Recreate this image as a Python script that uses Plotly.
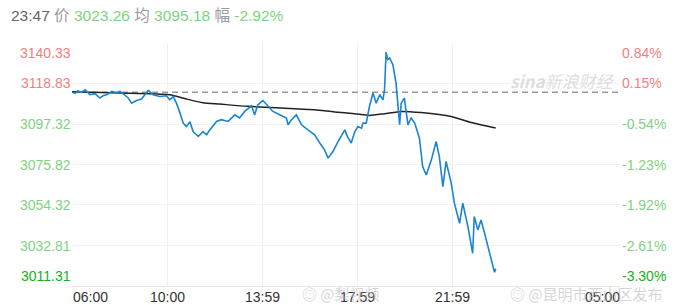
import plotly.graph_objects as go
import pandas as pd

# ---------------- data ----------------
price_times = [
    "06:00", "06:08", "06:15", "06:24", "06:33", "06:45", "06:58", "07:10", "07:18", "07:27",
    "07:40", "07:51", "08:01", "08:13", "08:21", "08:30", "08:43", "08:55", "09:04", "09:12",
    "09:24", "09:41", "09:58", "10:06", "10:15", "10:23", "10:32", "10:40", "10:48", "10:57",
    "11:05", "11:18", "11:30", "11:39", "11:47", "12:04", "12:16", "12:33", "12:50", "13:02",
    "13:15", "13:32", "13:40", "13:48", "14:01", "14:14", "14:26", "14:43", "15:00", "15:04",
    "15:13", "15:25", "15:38", "15:54", "16:11", "16:24", "16:36", "16:45", "16:57", "17:10",
    "17:27", "17:34", "17:43", "17:52", "18:00", "18:09", "18:13", "18:21", "18:29", "18:38",
    "18:46", "18:55", "19:03", "19:07", "19:11", "19:15", "19:20", "19:28", "19:36", "19:40",
    "19:45", "19:49", "19:57", "20:06", "20:14", "20:23", "20:35", "20:43", "20:52", "21:05",
    "21:17", "21:25", "21:34", "21:42", "21:55", "22:03", "22:16", "22:24", "22:37", "22:49",
    "22:53", "23:02", "23:10", "23:19", "23:27", "23:35", "23:40", "23:44", "23:47",
]
price_values = [
    3114.2, 3113.6, 3115.0, 3114.1, 3115.5, 3112.9, 3113.4, 3111.1, 3112.3, 3112.9,
    3114.6, 3113.9, 3114.6, 3112.3, 3111.3, 3108.4, 3109.8, 3110.6, 3112.9, 3115.1,
    3112.9, 3111.9, 3112.3, 3110.2, 3111.9, 3108.4, 3103.1, 3097.8, 3096.0, 3098.5,
    3093.3, 3090.7, 3093.3, 3091.6, 3094.2, 3098.7, 3099.6, 3098.7, 3102.2, 3100.5,
    3104.0, 3107.0, 3102.2, 3107.5, 3109.8, 3106.6, 3104.0, 3102.2, 3100.5, 3096.9,
    3099.6, 3102.2, 3096.9, 3094.2, 3091.6, 3087.2, 3083.6, 3079.2, 3082.7, 3088.0,
    3094.2, 3090.5, 3087.2, 3093.2, 3096.0, 3095.1, 3097.8, 3097.8, 3106.6, 3113.8,
    3108.4, 3112.9, 3110.2, 3115.5, 3135.5, 3131.5, 3132.4, 3128.8, 3119.1, 3109.3,
    3096.9, 3108.4, 3111.1, 3096.9, 3100.5, 3097.8, 3089.8, 3074.7, 3070.3, 3078.3,
    3088.0, 3080.0, 3064.1, 3077.4, 3065.9, 3055.3, 3044.6, 3055.3, 3042.8, 3028.7,
    3048.2, 3041.1, 3046.4, 3039.3, 3032.2, 3025.1, 3022.0, 3018.6, 3020.5,
]

avg_times = [
    "06:00", "08:01", "10:06", "10:48", "11:30", "12:12", "13:23", "14:48", "16:11", "17:01",
    "17:52", "18:29", "19:07", "19:49", "20:39", "21:55", "22:45", "23:47",
]
avg_values = [
    3114.4, 3113.8, 3112.9, 3110.6, 3108.6, 3107.9, 3106.7, 3105.8, 3104.9, 3103.7,
    3102.8, 3101.9, 3102.8, 3104.0, 3103.4, 3101.3, 3098.1, 3095.18,
]

prev_close = 3114.17
y_tick_values = [3140.33, 3118.83, 3097.32, 3075.82, 3054.32, 3032.81, 3011.31]
pct_tick_labels = ["0.84%", "0.15%", "-0.54%", "-1.23%", "-1.92%", "-2.61%", "-3.30%"]
x_tick_times = ["06:00", "10:00", "13:59", "17:59", "21:59", "05:00"]

header_time = "23:47"
header_price = "3023.26"
header_avg = "3095.18"
header_change = "-2.92%"


# ---------------- helpers ----------------
def to_dt(t):
    h, m = map(int, t.split(":"))
    day = 1 if h >= 6 else 2
    return pd.Timestamp(2024, 1, day, h, m)


px_times = [to_dt(t) for t in price_times]
av_times = [to_dt(t) for t in avg_times]
xt = [to_dt(t) for t in x_tick_times]

RED = "#f67e7e"
GREEN = "#7fd27f"
DGREEN = "#18b018"
FONT = "Liberation Sans, Arial, sans-serif"

W, H = 690, 305
ML, MR, MT, MB = 72, 70, 43, 19
PW, PH = W - ML - MR, H - MT - MB


def px_x(x):
    return (x - ML) / PW


def px_y(y):
    return (H - MB - y) / PH


fig = go.Figure()

# prev close dashed line
fig.add_trace(go.Scatter(
    x=[xt[0], xt[-1]], y=[prev_close, prev_close], mode="lines",
    line=dict(color="#9a9a9a", width=1.5, dash="6px,4px"), hoverinfo="skip",
))
# average line
fig.add_trace(go.Scatter(
    x=av_times, y=avg_values, mode="lines",
    line=dict(color="#222222", width=1.5, shape="spline", smoothing=0.6), hoverinfo="skip",
))
# price line
fig.add_trace(go.Scatter(
    x=px_times, y=price_values, mode="lines",
    line=dict(color="#1a84d4", width=1.6), hoverinfo="skip",
))

annotations = []
n = len(y_tick_values)
for i, (v, p) in enumerate(zip(y_tick_values, pct_tick_labels)):
    if i == n - 1:
        col = DGREEN
    elif v > prev_close:
        col = RED
    else:
        col = GREEN
    if i == 0:
        ya = "top"
    elif i == n - 1:
        ya = "bottom"
    else:
        ya = "middle"
    annotations.append(dict(
        x=0, xref="paper", y=v, yref="y", text=f"{v:.2f}", showarrow=False,
        xanchor="right", yanchor=ya, xshift=1, font=dict(size=14, color=col, family=FONT),
    ))
    annotations.append(dict(
        x=1, xref="paper", y=v, yref="y", text=p, showarrow=False,
        xanchor="left", yanchor=ya, xshift=0, font=dict(size=14, color=col, family=FONT),
    ))

for i, t in enumerate(xt):
    if i == 0:
        xa, xs = "left", -1
    elif i == len(xt) - 1:
        xa, xs = "right", 2
    else:
        xa, xs = "center", 0
    annotations.append(dict(
        x=t, xref="x", y=0, yref="paper", text=x_tick_times[i], showarrow=False,
        xanchor=xa, yanchor="top", xshift=xs, yshift=-1,
        font=dict(size=14, color="#333333", family=FONT),
    ))

header = (
    f"<span style='color:#666666'>{header_time}</span> "
    f"<span style='color:#9a9a9a'>价</span> "
    f"<span style='color:{GREEN}'>{header_price}</span> "
    f"<span style='color:#9a9a9a'>均</span> "
    f"<span style='color:{GREEN}'>{header_avg}</span> "
    f"<span style='color:#9a9a9a'>幅</span> "
    f"<span style='color:{GREEN}'>{header_change}</span>"
)
annotations.append(dict(
    x=px_x(9), xref="paper", y=px_y(16), yref="paper", text=header, showarrow=False,
    xanchor="left", yanchor="middle", font=dict(size=15.5, family=FONT + ", Noto Sans CJK SC"),
))

# watermarks
annotations.append(dict(
    x=px_x(562), xref="paper", y=px_y(80), yref="paper", text="<i><b>sina</b>新浪财经</i>",
    showarrow=False, xanchor="center", yanchor="middle",
    font=dict(size=17, color="rgba(200,200,200,0.6)", family="Noto Sans CJK SC"),
))
annotations.append(dict(
    x=px_x(341), xref="paper", y=px_y(293), yref="paper", text="◎ @梨视频", showarrow=False,
    xanchor="center", yanchor="middle", borderpad=0,
    font=dict(size=15, color="rgba(185,185,185,0.6)", family="Noto Sans CJK SC"),
))
annotations.append(dict(
    x=px_x(586), xref="paper", y=px_y(293), yref="paper", text="◎ @昆明市西山区发布", showarrow=False,
    xanchor="center", yanchor="middle", borderpad=0,
    font=dict(size=15, color="rgba(185,185,185,0.6)", family="Noto Sans CJK SC"),
))

fig.update_layout(
    width=W, height=H,
    margin=dict(l=ML, r=MR, t=MT, b=MB),
    paper_bgcolor="white", plot_bgcolor="white",
    showlegend=False,
    annotations=annotations,
    xaxis=dict(
        range=[xt[0], xt[-1]], tickvals=xt[1:-1], showticklabels=False,
        showgrid=True, gridcolor="#f0f0f0", gridwidth=1, zeroline=False,
        showline=True, linecolor="#e6e6e6", linewidth=1, ticks="",
    ),
    yaxis=dict(
        range=[y_tick_values[-1], y_tick_values[0]], tickvals=y_tick_values, showticklabels=False,
        showgrid=True, gridcolor="#f2f2f2", gridwidth=1, zeroline=False, ticks="",
    ),
)

fig.write_html("out.html")
